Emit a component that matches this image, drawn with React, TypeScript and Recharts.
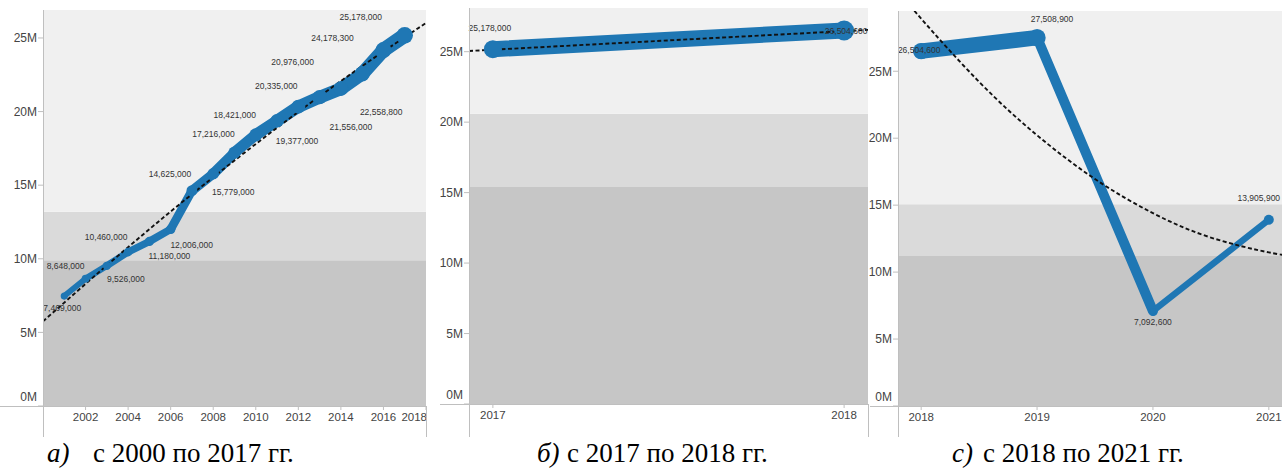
import React from 'react';
import { LineChart, Line, XAxis, YAxis, ReferenceArea, LabelList } from 'recharts';

// ---------- data ----------
const yearsA = [2001, 2002, 2003, 2004, 2005, 2006, 2007, 2008, 2009, 2010, 2011, 2012, 2013, 2014, 2015, 2016, 2017];
const valuesA = [7469000, 8648000, 9526000, 10460000, 11180000, 12006000, 14625000, 15779000, 17216000, 18421000, 19377000, 20335000, 20976000, 21556000, 22558800, 24178300, 25178000];
const trendYearsA = [2000, 2003, 2006, 2009, 2012, 2015, 2018];
const trendValuesA = [5750000, 9550000, 13210000, 16680000, 19980000, 23090000, 26020000];
const bandsA = [9900000, 13200000];
const xTicksA = [2002, 2004, 2006, 2008, 2010, 2012, 2014, 2016, 2018];

const yearsB = [2017, 2018];
const valuesB = [25178000, 26504600];
const trendYearsB = [2016.932, 2018.068];
const trendValuesB = [25050000, 26550000];
const bandsB = [15400000, 20600000];
const xTicksB = [2017, 2018];

const yearsC = [2018, 2019, 2020, 2021];
const valuesC = [26504600, 27508900, 7092600, 13905900];
const trendYearsC = [2017.8, 2018, 2018.5, 2019, 2019.5, 2020, 2020.5, 2021, 2021.2];
const trendValuesC = [31020000, 28930000, 24210000, 20220000, 16950000, 14400000, 12580000, 11470000, 11240000];
const bandsC = [11200000, 15070000];
const xTicksC = [2018, 2019, 2020, 2021];

const yTicks = [0, 5000000, 10000000, 15000000, 20000000, 25000000];

// ---------- styles / layout ----------
const BLUE = '#1f77b4';
const SANS = '"Liberation Sans", Arial, sans-serif';
const SERIF = '"Liberation Serif", "Times New Roman", serif';
const FRAME = '#bfbfbf';

const labelOffsetsA: [number, number][] = [
  [-2, 12], [-20, -13], [19, 13], [-22, -15], [20, 15], [21, 16], [-22, -17], [20, 18],
  [-21, -19], [-21, -20], [20, 20], [-22, -21], [-27, -35], [10, 38], [19, 38], [-51, -12], [-44, -18],
];
const labelOffsetsB: [number, number][] = [[-3, -21], [2, 1]];
const labelOffsetsC: [number, number][] = [[-2, -1], [15, -19], [0, 11], [-10, -22]];

const widthA = (v: number) => 1.6 + 0.53 * (v / 1e6);

const panels = [
  {
    id: 'a', left: 0, width: 440, top: 10, xAxisH: 34, yAxisW: 43, right: 14, yMax: 26900000,
    xDomain: [2000, 2018], xTicks: xTicksA, lastTickEnd: true,
    years: yearsA, values: valuesA, trendYears: trendYearsA, trendValues: trendValuesA, bands: bandsA,
    segWidths: yearsA.slice(0, -1).map((_, k) => widthA((valuesA[k] + valuesA[k + 1]) / 2)),
    dotR: valuesA.map((v) => widthA(v) / 2 + 0.8),
    labelOffsets: labelOffsetsA,
  },
  {
    id: 'b', left: 436, width: 440, top: 8, xAxisH: 36, yAxisW: 33, right: 8, yMax: 28100000,
    xDomain: [2016.932, 2018.068], xTicks: xTicksB, lastTickEnd: false,
    years: yearsB, values: valuesB, trendYears: trendYearsB, trendValues: trendValuesB, bands: bandsB,
    segWidths: [16],
    dotR: [9, 10],
    labelOffsets: labelOffsetsB,
  },
  {
    id: 'c', left: 866, width: 440, top: 11, xAxisH: 34, yAxisW: 32, right: 14, yMax: 29500000,
    xDomain: [2017.8, 2021.2], xTicks: xTicksC, lastTickEnd: false,
    years: yearsC, values: valuesC, trendYears: trendYearsC, trendValues: trendValuesC, bands: bandsC,
    segWidths: [15.5, 10, 6.5],
    dotR: [8.2, 8.6, 3, 5],
    labelOffsets: labelOffsetsC,
  },
];

function Panel({ cfg }: { cfg: any }) {
  const n = cfg.years.length;
  const rows = cfg.years.map((year: number, i: number) => {
    const row: any = { year, value: cfg.values[i] };
    for (let k = 0; k < n - 1; k++) {
      if (i === k || i === k + 1) row['s' + k] = cfg.values[i];
    }
    return row;
  });
  const trend = cfg.trendYears.map((year: number, i: number) => ({ year, trend: cfg.trendValues[i] }));

  const xTick = (p: any) => {
    const last = cfg.lastTickEnd && p.index === cfg.xTicks.length - 1;
    return (
      <text x={last ? p.x + 1 : p.x} y={p.y} dy="0.71em" textAnchor={last ? 'end' : 'middle'}
        fill="#444" fontSize={11.5} fontFamily={SANS}>
        {p.payload.value}
      </text>
    );
  };
  const yTick = (p: any) => {
    const v = p.payload.value;
    return (
      <text x={p.x} y={v === 0 ? p.y - 9 : p.y} dy="0.355em" textAnchor="end"
        fill="#444" fontSize={12} fontFamily={SANS}>
        {`${v / 1e6}M`}
      </text>
    );
  };
  const dot = (p: any) => (
    <circle key={`d-${cfg.id}-${p.index}`} cx={p.cx} cy={p.cy} r={cfg.dotR[p.index]} fill={BLUE} />
  );
  const label = (p: any) => {
    const off = cfg.labelOffsets[p.index] || [0, -12];
    return (
      <text key={`l-${cfg.id}-${p.index}`} x={p.x + off[0]} y={p.y + off[1]} textAnchor="middle"
        dominantBaseline="central" fill="#333" fontSize={8.5} fontFamily={SANS}>
        {Number(p.value).toLocaleString('en-US')}
      </text>
    );
  };

  return (
    <div style={{ position: 'absolute', left: cfg.left, top: 0 }}>
      <LineChart width={cfg.width} height={440} data={rows}
        margin={{ top: cfg.top, right: cfg.right, bottom: 0, left: 0 }}>
        <XAxis type="number" dataKey="year" domain={cfg.xDomain} allowDataOverflow ticks={cfg.xTicks}
          interval={0} height={cfg.xAxisH} axisLine={false} tickLine={{ stroke: FRAME }} tickSize={4}
          tickMargin={3} tick={xTick} />
        <YAxis type="number" domain={[0, cfg.yMax]} allowDataOverflow ticks={yTicks} interval={0}
          width={cfg.yAxisW} axisLine={false} tickLine={{ stroke: FRAME }} tickSize={5} tickMargin={1}
          tick={yTick} />
        <ReferenceArea y1={0} y2={cfg.bands[0]} fill="#c6c6c6" fillOpacity={1} stroke="none" />
        <ReferenceArea y1={cfg.bands[0]} y2={cfg.bands[1]} fill="#dadada" fillOpacity={1} stroke="none" />
        <ReferenceArea y1={cfg.bands[1]} y2={cfg.yMax} fill="#f0f0f0" fillOpacity={1} stroke="none" />
        {cfg.segWidths.map((w: number, k: number) => (
          <Line key={`s${k}`} dataKey={`s${k}`} type="linear" stroke={BLUE} strokeWidth={w}
            strokeLinecap="round" strokeLinejoin="round" dot={false} activeDot={false}
            connectNulls={false} isAnimationActive={false} />
        ))}
        <Line dataKey="value" stroke="none" dot={dot} activeDot={false} isAnimationActive={false} />
        <Line data={trend} dataKey="trend" type="natural" stroke="#111" strokeWidth={1.9}
          strokeDasharray="4 2.5" dot={false} activeDot={false} isAnimationActive={false} />
        <Line dataKey="value" stroke="none" dot={false} activeDot={false} isAnimationActive={false}>
          <LabelList dataKey="value" content={label} />
        </Line>
      </LineChart>
    </div>
  );
}

export default function App() {
  return (
    <div style={{ position: 'absolute', left: 0, top: 0, width: 1282, height: 470, overflow: 'hidden', background: '#fff' }}>
      {panels.map((p) => (
        <Panel key={p.id} cfg={p} />
      ))}
      <svg width={1282} height={470} style={{ position: 'absolute', left: 0, top: 0, pointerEvents: 'none' }}>
        {/* frame lines */}
        <line x1={43.5} y1={10} x2={43.5} y2={437} stroke={FRAME} />
        <line x1={0} y1={406.5} x2={426} y2={406.5} stroke={FRAME} />
        <line x1={426.5} y1={406} x2={426.5} y2={437} stroke={FRAME} />
        <line x1={469.5} y1={8} x2={469.5} y2={437} stroke={FRAME} />
        <line x1={440} y1={404.5} x2={868} y2={404.5} stroke={FRAME} />
        <line x1={868.5} y1={404} x2={868.5} y2={437} stroke={FRAME} />
        <line x1={898.5} y1={11} x2={898.5} y2={437} stroke={FRAME} />
        <line x1={870} y1={406.5} x2={1282} y2={406.5} stroke={FRAME} />
        {/* captions */}
        <text x={47} y={462} fontFamily={SERIF} fontSize={27} fontStyle="italic" fill="#000">а)</text>
        <text x={93} y={462} fontFamily={SERIF} fontSize={27} fill="#000">с 2000 по 2017 гг.</text>
        <text x={537} y={462} fontFamily={SERIF} fontSize={27} fontStyle="italic" fill="#000">б)</text>
        <text x={567} y={462} fontFamily={SERIF} fontSize={27} fill="#000">с 2017 по 2018 гг.</text>
        <text x={952} y={462} fontFamily={SERIF} fontSize={27} fontStyle="italic" fill="#000">с)</text>
        <text x={983} y={462} fontFamily={SERIF} fontSize={27} fill="#000">с 2018 по 2021 гг.</text>
      </svg>
    </div>
  );
}
